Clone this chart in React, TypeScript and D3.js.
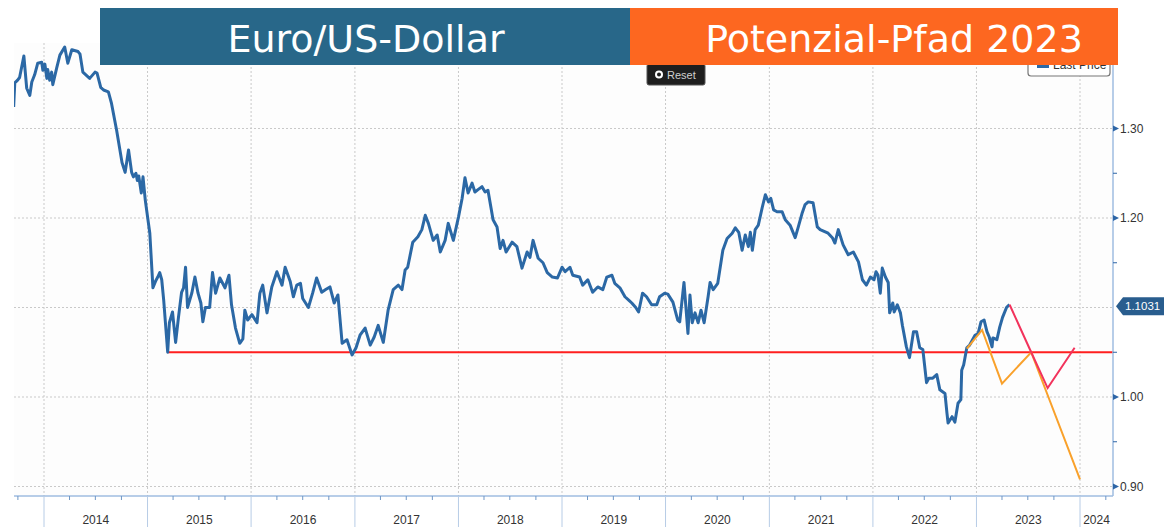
import * as d3 from 'd3';
import { useEffect, useRef } from 'react';

type Pt = [string, number];

// EUR/USD closes, grouped by year ("MM-DD", rate)
const eur2013: Pt[] = [
  ['09-16', 1.324], ['09-20', 1.351], ['09-30', 1.354], ['10-07', 1.357], ['10-22', 1.381],
  ['11-01', 1.345], ['11-12', 1.337], ['11-19', 1.352], ['11-29', 1.360], ['12-10', 1.373],
  ['12-24', 1.374], ['12-28', 1.365],
];
const eur2014: Pt[] = [
  ['01-04', 1.372], ['01-11', 1.356], ['01-14', 1.366], ['01-21', 1.354], ['01-28', 1.363],
  ['02-01', 1.349], ['02-15', 1.368], ['02-26', 1.382], ['03-15', 1.391], ['03-26', 1.373],
  ['04-09', 1.388], ['05-01', 1.386], ['05-08', 1.383], ['05-18', 1.363], ['06-11', 1.356],
  ['06-30', 1.363], ['07-07', 1.362], ['07-20', 1.346], ['07-30', 1.343], ['08-16', 1.341],
  ['08-27', 1.328], ['09-14', 1.298], ['10-03', 1.262], ['10-14', 1.251], ['10-26', 1.276],
  ['11-06', 1.251], ['11-12', 1.246], ['11-21', 1.250], ['11-26', 1.242], ['12-01', 1.247],
  ['12-10', 1.228], ['12-16', 1.246], ['12-24', 1.220],
];
const eur2015: Pt[] = [
  ['01-09', 1.183], ['01-20', 1.122], ['01-30', 1.130], ['02-06', 1.134], ['02-13', 1.139],
  ['02-20', 1.131], ['02-27', 1.108], ['03-13', 1.050], ['03-19', 1.083], ['03-30', 1.095],
  ['04-10', 1.061], ['04-20', 1.089], ['05-01', 1.117], ['05-08', 1.122], ['05-15', 1.145],
  ['05-22', 1.100], ['06-06', 1.116], ['06-17', 1.134], ['06-28', 1.116], ['07-08', 1.105],
  ['07-15', 1.084], ['07-24', 1.100], ['08-08', 1.100], ['08-18', 1.139], ['08-29', 1.116],
  ['09-13', 1.133], ['10-01', 1.122], ['10-15', 1.136], ['10-24', 1.103], ['11-07', 1.077],
  ['11-22', 1.060], ['12-03', 1.065], ['12-10', 1.097], ['12-20', 1.086],
];
const eur2016: Pt[] = [
  ['01-04', 1.092], ['01-22', 1.083], ['02-01', 1.116], ['02-11', 1.125], ['02-26', 1.094],
  ['03-14', 1.123], ['04-01', 1.140], ['04-19', 1.125], ['04-30', 1.145], ['05-18', 1.129],
  ['05-29', 1.112], ['06-10', 1.125], ['06-23', 1.127], ['07-01', 1.110], ['07-21', 1.100],
  ['08-05', 1.116], ['08-19', 1.133], ['09-06', 1.117], ['09-20', 1.120], ['10-05', 1.123],
  ['10-20', 1.105], ['11-02', 1.114], ['11-17', 1.060], ['12-04', 1.064], ['12-22', 1.047],
];
const eur2017: Pt[] = [
  ['01-05', 1.055], ['01-19', 1.069], ['02-06', 1.077], ['02-24', 1.058], ['03-10', 1.067],
  ['03-24', 1.080], ['04-11', 1.061], ['04-28', 1.097], ['05-16', 1.120], ['06-03', 1.125],
  ['06-16', 1.120], ['06-27', 1.142], ['07-06', 1.145], ['07-24', 1.173], ['08-11', 1.179],
  ['08-25', 1.187], ['09-06', 1.203], ['09-17', 1.194], ['10-04', 1.175], ['10-18', 1.181],
  ['10-29', 1.162], ['11-15', 1.175], ['11-26', 1.194], ['12-14', 1.175],
];
const eur2018: Pt[] = [
  ['01-01', 1.201], ['01-14', 1.222], ['01-24', 1.245], ['02-04', 1.228], ['02-18', 1.239],
  ['02-28', 1.229], ['03-12', 1.232], ['03-25', 1.235], ['04-05', 1.229], ['04-15', 1.231],
  ['05-03', 1.198], ['05-17', 1.190], ['05-28', 1.166], ['06-07', 1.175], ['06-18', 1.162],
  ['07-09', 1.173], ['07-26', 1.168], ['08-13', 1.144], ['08-31', 1.162], ['09-10', 1.156],
  ['09-21', 1.175], ['10-09', 1.155], ['10-26', 1.150], ['11-10', 1.139], ['11-28', 1.134],
  ['12-16', 1.133],
];
const eur2019: Pt[] = [
  ['01-01', 1.145], ['01-12', 1.140], ['01-29', 1.145], ['02-08', 1.136], ['03-04', 1.134],
  ['03-15', 1.125], ['04-02', 1.131], ['04-19', 1.117], ['05-07', 1.123], ['05-25', 1.120],
  ['06-08', 1.134], ['06-26', 1.136], ['07-06', 1.127], ['07-24', 1.122], ['08-11', 1.112],
  ['08-25', 1.108], ['09-04', 1.105], ['09-18', 1.100], ['09-28', 1.095], ['10-12', 1.116],
  ['10-26', 1.112], ['11-13', 1.103], ['12-01', 1.103], ['12-11', 1.112], ['12-29', 1.116],
];
const eur2020: Pt[] = [
  ['01-09', 1.115], ['01-27', 1.106], ['02-13', 1.086], ['02-20', 1.084], ['03-06', 1.128],
  ['03-20', 1.071], ['03-27', 1.114], ['04-04', 1.083], ['04-14', 1.094], ['04-25', 1.083],
  ['05-05', 1.097], ['05-16', 1.083], ['05-30', 1.112], ['06-06', 1.128], ['06-17', 1.120],
  ['07-03', 1.127], ['07-21', 1.164], ['08-05', 1.177], ['08-23', 1.183], ['09-03', 1.189],
  ['09-15', 1.184], ['09-27', 1.164], ['10-08', 1.181], ['10-19', 1.168], ['10-26', 1.184],
  ['11-02', 1.164], ['11-12', 1.187], ['11-23', 1.192], ['12-07', 1.212], ['12-18', 1.226],
  ['12-29', 1.218],
];
const eur2021: Pt[] = [
  ['01-06', 1.222], ['01-16', 1.209], ['01-28', 1.207], ['02-15', 1.207], ['02-26', 1.198],
  ['03-15', 1.192], ['04-02', 1.178], ['04-13', 1.190], ['04-27', 1.206], ['05-07', 1.215],
  ['05-18', 1.218], ['06-04', 1.217], ['06-19', 1.190], ['06-29', 1.187], ['07-13', 1.185],
  ['07-27', 1.183], ['08-11', 1.178], ['08-20', 1.172], ['09-01', 1.187], ['09-18', 1.170],
  ['10-06', 1.159], ['10-24', 1.162], ['11-11', 1.151], ['11-25', 1.131], ['12-09', 1.125],
  ['12-23', 1.134],
];
const eur2022: Pt[] = [
  ['01-05', 1.131], ['01-12', 1.140], ['01-19', 1.136], ['01-27', 1.116], ['02-03', 1.144],
  ['02-14', 1.134], ['02-24', 1.128], ['03-01', 1.094], ['03-12', 1.105], ['03-17', 1.095],
  ['03-28', 1.103], ['04-08', 1.094], ['04-15', 1.080], ['04-29', 1.056], ['05-10', 1.044],
  ['05-24', 1.073], ['06-04', 1.073], ['06-15', 1.055], ['06-26', 1.053], ['07-09', 1.016],
  ['07-17', 1.021], ['07-31', 1.021], ['08-14', 1.025], ['08-25', 1.008], ['09-12', 1.004],
  ['09-19', 0.982], ['09-23', 0.971], ['10-07', 0.978], ['10-17', 0.972], ['10-28', 0.993],
  ['11-07', 0.997], ['11-10', 1.030], ['11-17', 1.036], ['11-28', 1.055], ['12-08', 1.058],
  ['12-27', 1.069],
];
const eur2023: Pt[] = [
  ['01-07', 1.071], ['01-17', 1.084], ['01-28', 1.086], ['02-07', 1.073], ['02-15', 1.067],
  ['02-25', 1.056], ['02-28', 1.066], ['03-14', 1.064], ['03-24', 1.078], ['04-03', 1.089],
  ['04-17', 1.100], ['04-23', 1.102], ['04-28', 1.1031],
];

const eurYears: [number, Pt[]][] = [
  [2013, eur2013], [2014, eur2014], [2015, eur2015], [2016, eur2016], [2017, eur2017],
  [2018, eur2018], [2019, eur2019], [2020, eur2020], [2021, eur2021], [2022, eur2022],
  [2023, eur2023],
];

// drawn-in scenario paths
const orangePath: Pt[] = [
  ['2022-11-28', 1.054], ['2023-01-21', 1.075], ['2023-04-01', 1.015], ['2023-07-13', 1.05], ['2024-01-01', 0.908],
];
const redPath: Pt[] = [
  ['2023-04-28', 1.1031], ['2023-07-13', 1.05], ['2023-09-09', 1.01], ['2023-12-13', 1.055],
];
const supportLevel = 1.05;
const supportStart = '2015-03-13';
const lastPrice = 1.1031;

const yTicks = [0.9, 1.0, 1.2, 1.3];
const yGrid = [0.9, 1.0, 1.1, 1.2, 1.3];
const yMinorTicks = [0.95, 1.05, 1.15, 1.25];
const yearLabels = ['2014', '2015', '2016', '2017', '2018', '2019', '2020', '2021', '2022', '2023', '2024'];
const leftTitle = 'Euro/US-Dollar';
const rightTitle = 'Potenzial-Pfad 2023';

const App = () => {
  const svgRef = useRef<SVGSVGElement | null>(null);

  useEffect(() => {
    if (!svgRef.current) return;
    const svg = d3.select(svgRef.current);
    svg.selectAll('*').remove();

    const W = 1164, H = 527;
    const plot = { left: 14, right: 1113, top: 43, bottom: 496 };
    const parse = d3.timeParse('%Y-%m-%d');
    const axisFont = 'Arial, "Liberation Sans", sans-serif';

    const x = d3.scaleTime()
      .domain([new Date(2014, 0, 1), new Date(2024, 0, 1)])
      .range([44, 1080]);
    const y = d3.scaleLinear().domain([0.9, 1.3]).range([486.5, 128.5]);

    const series = eurYears.flatMap(([yr, pts]) =>
      pts.map(([md, v]) => ({ date: parse(`${yr}-${md}`) as Date, value: v })));
    const toRows = (pts: Pt[]) => pts.map(([d, v]) => ({ date: parse(d) as Date, value: v }));

    const line = d3.line<{ date: Date; value: number }>()
      .x(d => x(d.date))
      .y(d => y(d.value));

    svg.attr('width', W).attr('height', H);
    svg.append('rect').attr('width', W).attr('height', H).attr('fill', '#ffffff');

    svg.append('defs').append('clipPath').attr('id', 'plotClip')
      .append('rect')
      .attr('x', plot.left).attr('y', plot.top)
      .attr('width', plot.right - plot.left).attr('height', plot.bottom - plot.top);

    // Plot background
    svg.append('rect')
      .attr('x', plot.left).attr('y', plot.top)
      .attr('width', plot.right - plot.left).attr('height', plot.bottom - plot.top)
      .attr('fill', '#fdfdfd');

    const tStart = x.invert(plot.left);
    const tEnd = x.invert(plot.right);
    const yearStarts = d3.timeYear.range(d3.timeYear.ceil(tStart), tEnd);

    // Gridlines
    const grid = svg.append('g').attr('stroke', '#c9c9c9').attr('stroke-dasharray', '2,2');
    grid.selectAll('.vg').data(yearStarts).join('line')
      .attr('x1', d => x(d)).attr('x2', d => x(d))
      .attr('y1', plot.top).attr('y2', plot.bottom);
    grid.selectAll('.hg').data(yGrid).join('line')
      .attr('x1', plot.left).attr('x2', plot.right)
      .attr('y1', d => y(d)).attr('y2', d => y(d));

    // Support line
    svg.append('line')
      .attr('x1', x(parse(supportStart) as Date)).attr('x2', plot.right)
      .attr('y1', y(supportLevel)).attr('y2', y(supportLevel))
      .attr('stroke', '#ff1f1f').attr('stroke-width', 2);

    // Price line
    svg.append('path')
      .datum(series)
      .attr('clip-path', 'url(#plotClip)')
      .attr('d', line)
      .attr('fill', 'none')
      .attr('stroke', '#2b68a5')
      .attr('stroke-width', 3)
      .attr('stroke-linejoin', 'round');

    // Scenario paths
    svg.append('path').datum(toRows(orangePath))
      .attr('d', line).attr('fill', 'none')
      .attr('stroke', '#f9a12b').attr('stroke-width', 2);
    svg.append('path').datum(toRows(redPath))
      .attr('d', line).attr('fill', 'none')
      .attr('stroke', '#f2335c').attr('stroke-width', 2);

    // Bottom axis
    svg.append('line')
      .attr('x1', plot.left).attr('x2', plot.right)
      .attr('y1', plot.bottom).attr('y2', plot.bottom)
      .attr('stroke', '#9fbde0').attr('stroke-width', 1.5);
    const quarters = d3.timeMonth.every(3)!.range(tStart, tEnd).filter(d => d.getMonth() !== 0);
    svg.append('g').selectAll('line').data(quarters).join('line')
      .attr('x1', d => x(d)).attr('x2', d => x(d))
      .attr('y1', plot.bottom).attr('y2', plot.bottom + 4)
      .attr('stroke', '#6f97c6');
    svg.append('g').selectAll('line').data(yearStarts).join('line')
      .attr('x1', d => x(d)).attr('x2', d => x(d))
      .attr('y1', plot.bottom).attr('y2', H)
      .attr('stroke', '#b7cce6');
    svg.append('g').selectAll('text').data(yearLabels).join('text')
      .attr('x', d => {
        const a = Math.max(x(new Date(+d, 0, 1)), plot.left);
        const b = Math.min(x(new Date(+d + 1, 0, 1)), plot.right);
        return (a + b) / 2;
      })
      .attr('y', 524)
      .attr('text-anchor', 'middle')
      .style('font-family', axisFont)
      .style('font-size', '12px')
      .style('fill', '#333')
      .text(d => d);

    // Right axis
    svg.append('line')
      .attr('x1', plot.right).attr('x2', plot.right)
      .attr('y1', plot.top).attr('y2', plot.bottom)
      .attr('stroke', '#9fbde0').attr('stroke-width', 1.5);
    svg.append('g').selectAll('path').data(yTicks).join('path')
      .attr('d', d => `M${plot.right},${y(d) - 3}L${plot.right + 6},${y(d)}L${plot.right},${y(d) + 3}Z`)
      .attr('fill', '#2d65a6');
    svg.append('g').selectAll('line').data(yMinorTicks).join('line')
      .attr('x1', plot.right).attr('x2', plot.right + 4)
      .attr('y1', d => y(d)).attr('y2', d => y(d))
      .attr('stroke', '#2d65a6');
    svg.append('g').selectAll('text').data(yTicks).join('text')
      .attr('x', plot.right + 7)
      .attr('y', d => y(d))
      .attr('dy', '0.35em')
      .style('font-family', axisFont)
      .style('font-size', '12px')
      .style('fill', '#333')
      .text(d => d.toFixed(2));

    // Last price tag
    const ty = y(lastPrice) + 1.5;
    svg.append('path')
      .attr('d', `M${plot.right + 3},${ty}L${plot.right + 10},${ty - 9}L${W},${ty - 9}L${W},${ty + 9}L${plot.right + 10},${ty + 9}Z`)
      .attr('fill', '#295d8e');
    svg.append('text')
      .attr('x', plot.right + 12).attr('y', ty).attr('dy', '0.35em')
      .style('font-family', axisFont).style('font-size', '11.5px').style('fill', '#fff')
      .text(lastPrice.toFixed(4));

    // Reset button
    const reset = svg.append('g');
    reset.append('rect').attr('x', 647).attr('y', 64).attr('width', 58).attr('height', 21).attr('rx', 2)
      .attr('fill', '#1e1e1e').attr('stroke', '#555');
    reset.append('circle').attr('cx', 659).attr('cy', 74.5).attr('r', 3)
      .attr('fill', 'none').attr('stroke', '#fff').attr('stroke-width', 2);
    reset.append('text').attr('x', 667).attr('y', 78.5)
      .style('font-family', axisFont).style('font-size', '11px').style('fill', '#cfcfcf')
      .text('Reset');

    // Legend box (mostly hidden behind the header)
    const leg = svg.append('g');
    leg.append('rect').attr('x', 1028).attr('y', 46).attr('width', 82).attr('height', 30).attr('rx', 3)
      .attr('fill', '#fff').attr('stroke', '#777').attr('stroke-width', 1.2);
    leg.append('rect').attr('x', 1037).attr('y', 60).attr('width', 12).attr('height', 8).attr('fill', '#2b68a5');
    leg.append('text').attr('x', 1053).attr('y', 69)
      .style('font-family', axisFont).style('font-size', '12px').style('fill', '#333')
      .text('Last Price');

    // Header banners
    svg.append('rect').attr('x', 100).attr('y', 8).attr('width', 530).attr('height', 57).attr('fill', '#286789');
    svg.append('rect').attr('x', 630).attr('y', 8).attr('width', 488).attr('height', 57).attr('fill', '#fd6720');
    svg.append('text').attr('x', 366).attr('y', 52).attr('text-anchor', 'middle')
      .style('font-family', '"DejaVu Sans", Verdana, sans-serif').style('font-size', '38px').style('fill', '#fff')
      .text(leftTitle);
    svg.append('text').attr('x', 894).attr('y', 52).attr('text-anchor', 'middle')
      .style('font-family', '"DejaVu Sans", Verdana, sans-serif').style('font-size', '38px').style('fill', '#fff')
      .text(rightTitle);
  }, []);

  return (
    <svg ref={svgRef} style={{ position: 'absolute', left: 0, top: 0, display: 'block' }}></svg>
  );
};

export default App;
